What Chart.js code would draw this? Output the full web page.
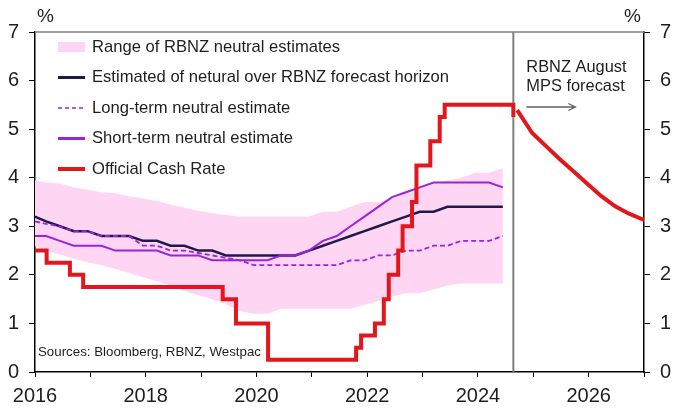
<!DOCTYPE html>
<html>
<head>
<meta charset="utf-8">
<title>OCR vs neutral</title>
<script src="https://cdn.jsdelivr.net/npm/chart.js@4.4.1/dist/chart.umd.min.js"></script>
<style>
  html, body { margin: 0; padding: 0; background: #fff; }
  #wrap { width: 674px; height: 410px; }
</style>
</head>
<body>
<div id="wrap"><canvas id="ocrChart" width="674" height="410"></canvas></div>
<script>
// quarterly dates for the neutral rate estimates
const estDates = [2016.0, 2016.2, 2016.45, 2016.7, 2016.95, 2017.2, 2017.45, 2017.7, 2017.95,
    2018.2, 2018.45, 2018.7, 2018.95, 2019.2, 2019.45, 2019.7, 2019.95, 2020.2, 2020.45,
    2020.7, 2020.95, 2021.2, 2021.45, 2021.7, 2021.95, 2022.2, 2022.45, 2022.7, 2022.95,
    2023.2, 2023.45, 2023.7, 2023.95, 2024.2, 2024.45];

const rangeHigh = [3.95, 3.9, 3.88, 3.8, 3.75, 3.7, 3.68, 3.62, 3.57, 3.52, 3.45, 3.38, 3.32,
    3.27, 3.23, 3.2, 3.2, 3.2, 3.2, 3.2, 3.2, 3.3, 3.3, 3.4, 3.5, 3.5, 3.55, 3.7, 3.8, 3.88,
    3.95, 4.0, 4.1, 4.1, 4.2];
const rangeLow = [2.6, 2.5, 2.42, 2.33, 2.26, 2.2, 2.12, 2.04, 1.95, 1.87, 1.78, 1.67, 1.58,
    1.5, 1.4, 1.25, 1.2, 1.2, 1.3, 1.3, 1.3, 1.3, 1.3, 1.3, 1.38, 1.46, 1.55, 1.62, 1.62, 1.7,
    1.78, 1.82, 1.82, 1.82, 1.82];
const horizonNeutral = [3.2, 3.1, 3.0, 2.9, 2.9, 2.8, 2.8, 2.8, 2.7, 2.7, 2.6, 2.6, 2.5, 2.5,
    2.4, 2.4, 2.4, 2.4, 2.4, 2.4, 2.5, 2.6, 2.7, 2.8, 2.9, 3.0, 3.1, 3.2, 3.3, 3.3, 3.4, 3.4,
    3.4, 3.4, 3.4];
const longTerm = [3.1, 3.05, 3.0, 2.9, 2.9, 2.8, 2.8, 2.8, 2.6, 2.6, 2.5, 2.5, 2.45, 2.4, 2.35,
    2.3, 2.2, 2.2, 2.2, 2.2, 2.2, 2.2, 2.2, 2.3, 2.3, 2.4, 2.4, 2.5, 2.5, 2.6, 2.6, 2.7, 2.7,
    2.7, 2.8];
const shortTerm = [2.8, 2.8, 2.7, 2.6, 2.6, 2.6, 2.5, 2.5, 2.5, 2.5, 2.4, 2.4, 2.4, 2.3, 2.3,
    2.3, 2.3, 2.3, 2.4, 2.4, 2.5, 2.7, 2.8, 3.0, 3.2, 3.4, 3.6, 3.7, 3.8, 3.9, 3.9, 3.9, 3.9,
    3.9, 3.8];

// OCR decisions (date of change, new rate)
const ocrDates = [2016.0, 2016.21, 2016.63, 2016.87, 2019.39, 2019.63, 2020.21, 2021.8, 2021.89,
    2022.14, 2022.3, 2022.39, 2022.56, 2022.64, 2022.81, 2022.89, 2023.14, 2023.31, 2023.4,
    2024.64, 2024.64];
const ocrRates = [2.5, 2.25, 2.0, 1.75, 1.5, 1.0, 0.25, 0.5, 0.75, 1.0, 1.5, 2.0, 2.5, 3.0, 3.5,
    4.25, 4.75, 5.25, 5.5, 5.5, 5.25];

// RBNZ August MPS track
const fcDates = [2024.71, 2024.98, 2025.23, 2025.48, 2025.73, 2025.98, 2026.23, 2026.48, 2026.73, 2026.98, 2027.1];
const fcRates = [5.39, 4.92, 4.65, 4.38, 4.13, 3.87, 3.62, 3.41, 3.26, 3.14, 3.09];

const mpsDate = 2024.64;

const PINK = '#ffd5f4';
const NAVY = '#1d1a4c';
const PURPLE = '#9a22dc';
const RED = '#e2161b';
const TXT = '#1e1e1e';
const FONT = "'Liberation Sans', Arial, sans-serif";

function pts(xs, ys) {
    return xs.map((x, i) => ({ x: x, y: ys[i] }));
}

const legendItems = [
    { label: 'Range of RBNZ neutral estimates', box: true, color: PINK },
    { label: 'Estimated of netural over RBNZ forecast horizon', color: NAVY, width: 3 },
    { label: 'Long-term neutral estimate', color: PURPLE, width: 1.5, dash: [4, 3] },
    { label: 'Short-term neutral estimate', color: PURPLE, width: 3 },
    { label: 'Official Cash Rate', color: RED, width: 4 },
];

const decorPlugin = {
    id: 'decor',
    beforeDatasetsDraw(chart) {
        const ctx = chart.ctx;
        const a = chart.chartArea;
        const xs = chart.scales.x;
        const vx = xs.getPixelForValue(mpsDate);
        ctx.save();
        // top frame line
        ctx.strokeStyle = '#808080';
        ctx.lineWidth = 1.5;
        ctx.beginPath();
        ctx.moveTo(a.left, a.top);
        ctx.lineTo(a.right, a.top);
        ctx.stroke();
        // forecast divider
        ctx.lineWidth = 2;
        ctx.beginPath();
        ctx.moveTo(vx, a.top);
        ctx.lineTo(vx, a.bottom);
        ctx.stroke();
        ctx.restore();
    },
    afterDraw(chart) {
        const ctx = chart.ctx;
        const a = chart.chartArea;
        const xs = chart.scales.x;
        const vx = xs.getPixelForValue(mpsDate);
        ctx.save();
        ctx.fillStyle = TXT;
        ctx.textBaseline = 'middle';

        // unit labels
        ctx.font = '19px ' + FONT;
        ctx.textAlign = 'left';
        ctx.fillText('%', 37, 17);
        ctx.textAlign = 'right';
        ctx.fillText('%', 641, 17);

        // legend
        ctx.textAlign = 'left';
        ctx.font = '16.6px ' + FONT;
        legendItems.forEach((it, i) => {
            const y = 47 + i * 30.5;
            if (it.box) {
                ctx.fillStyle = it.color;
                ctx.fillRect(58, y - 5, 27, 10);
            } else {
                ctx.strokeStyle = it.color;
                ctx.lineWidth = it.width;
                ctx.setLineDash(it.dash || []);
                ctx.beginPath();
                ctx.moveTo(58, y);
                ctx.lineTo(85, y);
                ctx.stroke();
                ctx.setLineDash([]);
            }
            ctx.fillStyle = TXT;
            ctx.fillText(it.label, 92, y);
        });

        // forecast note + arrow
        ctx.font = '16.4px ' + FONT;
        ctx.fillText('RBNZ August', vx + 13, 67);
        ctx.fillText('MPS forecast', vx + 13, 86);
        ctx.strokeStyle = '#606060';
        ctx.lineWidth = 1.3;
        ctx.beginPath();
        ctx.moveTo(vx + 13, 107);
        ctx.lineTo(vx + 62, 107);
        ctx.moveTo(vx + 55, 103.5);
        ctx.lineTo(vx + 62, 107);
        ctx.lineTo(vx + 55, 110.5);
        ctx.stroke();

        // source
        ctx.font = '13.3px ' + FONT;
        ctx.fillText('Sources: Bloomberg, RBNZ, Westpac', a.left + 3, 352);
        ctx.restore();
    }
};

const axisCommon = {
    min: 0,
    max: 7,
    grid: { drawOnChartArea: false, drawTicks: true, tickLength: 6, color: '#000' },
    border: { color: '#000', width: 1.5 },
    ticks: { stepSize: 1, color: TXT, padding: 10, font: { family: FONT, size: 20 } },
};

new Chart(document.getElementById('ocrChart'), {
    type: 'line',
    data: {
        datasets: [
            {
                label: 'Official Cash Rate',
                data: pts(ocrDates, ocrRates),
                borderColor: RED,
                borderWidth: 4,
                stepped: 'before',
                pointRadius: 0,
                fill: false,
                order: 0,
            },
            {
                label: 'OCR forecast',
                data: pts(fcDates, fcRates),
                borderColor: RED,
                borderWidth: 4,
                pointRadius: 0,
                fill: false,
                order: 0,
            },
            {
                label: 'Long-term neutral estimate',
                data: pts(estDates, longTerm),
                borderColor: PURPLE,
                borderWidth: 1.8,
                borderDash: [5, 3],
                pointRadius: 0,
                fill: false,
                order: 1,
            },
            {
                label: 'Short-term neutral estimate',
                data: pts(estDates, shortTerm),
                borderColor: PURPLE,
                borderWidth: 2,
                pointRadius: 0,
                fill: false,
                order: 2,
            },
            {
                label: 'Estimated of netural over RBNZ forecast horizon',
                data: pts(estDates, horizonNeutral),
                borderColor: NAVY,
                borderWidth: 2.5,
                pointRadius: 0,
                fill: false,
                order: 3,
            },
            {
                label: 'Range high',
                data: pts(estDates, rangeHigh),
                borderWidth: 0,
                borderColor: 'rgba(0,0,0,0)',
                backgroundColor: PINK,
                pointRadius: 0,
                fill: '+1',
                order: 10,
            },
            {
                label: 'Range low',
                data: pts(estDates, rangeLow),
                borderWidth: 0,
                borderColor: 'rgba(0,0,0,0)',
                pointRadius: 0,
                fill: false,
                order: 11,
            },
        ],
    },
    options: {
        responsive: false,
        animation: false,
        layout: { padding: { top: 32, left: 0, right: 0, bottom: 0 } },
        plugins: { legend: { display: false }, tooltip: { enabled: false } },
        scales: {
            x: {
                type: 'linear',
                min: 2016,
                max: 2027,
                grid: { drawOnChartArea: false, drawTicks: true, tickLength: 5, color: '#000' },
                border: { color: '#000', width: 1.5 },
                ticks: {
                    stepSize: 1,
                    autoSkip: false,
                    maxRotation: 0,
                    padding: 7,
                    color: TXT,
                    font: { family: FONT, size: 20 },
                    callback: v => (v % 2 === 0 ? String(v) : ''),
                },
                afterFit: s => { s.height = 38; },
            },
            y: Object.assign({}, axisCommon, {
                position: 'left',
                afterFit: s => { s.width = 35; },
            }),
            y2: Object.assign({}, axisCommon, {
                position: 'right',
                afterFit: s => { s.width = 30; },
            }),
        },
    },
    plugins: [decorPlugin],
});
</script>
</body>
</html>
